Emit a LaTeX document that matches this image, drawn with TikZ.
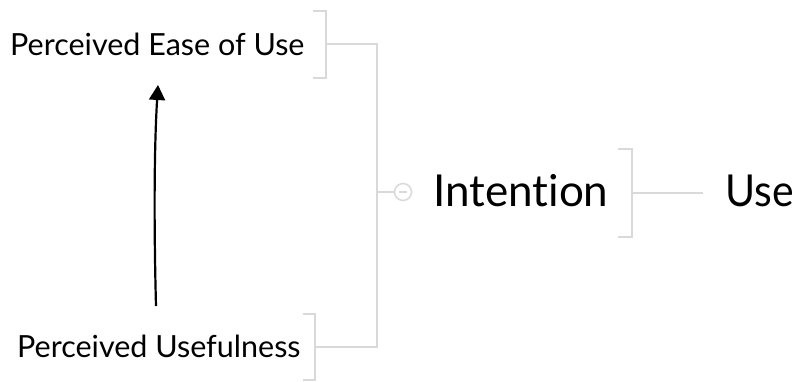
\documentclass[tikz,border=0pt]{standalone}
\usepackage{fontspec}
\setmainfont{Lato}[Ligatures={NoCommon}]
\usetikzlibrary{arrows.meta}
\definecolor{linegray}{HTML}{D9D9D9}
\tikzset{
  conn/.style={draw=linegray, line width=2pt},
  small/.style={font=\fontsize{30.5}{33}\selectfont, inner sep=0pt, anchor=base west},
  big/.style={font=\fontsize{44}{48}\selectfont, inner sep=0pt, anchor=base west},
}
\begin{document}
\begin{tikzpicture}[x=1pt,y=-1pt]
\useasboundingbox (0,0) rectangle (798,381);
% texts
\node[small] (peou) at (10,55) {Perceived Ease of Use};
\node[small] (pu) at (17,357) {Perceived Usefulness};
\node[big] (int) at (433,206) {Intention};
\node[big] (use) at (725,206) {\scalebox{0.93}[1]{Use}};
% brackets
\draw[conn] (313,11) -- (326,11) -- (326,78) -- (313,78);
\draw[conn] (303,314) -- (315,314) -- (315,380) -- (303,380);
\draw[conn] (618,149) -- (632,149) -- (632,237) -- (618,237);
% connectors
\coordinate (ta) at (326,44);
\coordinate (tb) at (377,44);
\coordinate (ba) at (315,347);
\coordinate (bb) at (377,347);
\coordinate (jm) at (377,192);
\coordinate (ca) at (403,192);
\draw[conn] (ta) -- (tb) -- (bb) -- (ba);
\draw[conn] (jm) -- (394,192);
\draw[draw=linegray, line width=1.5pt] (ca) circle (8.5);
\draw[draw=linegray, line width=1.2pt] (399,192) -- (407,192);
\coordinate (ia) at (632,193);
\coordinate (ib) at (703,193);
\draw[conn] (ia) -- (ib);
% arrow
\coordinate (as) at (156,306);
\coordinate (ae) at (158,85);
\draw[line width=2.2pt, -{Triangle[length=15pt,width=16pt]}] (as) .. controls (154,230) and (154,150) .. (ae);
\end{tikzpicture}
\end{document}
